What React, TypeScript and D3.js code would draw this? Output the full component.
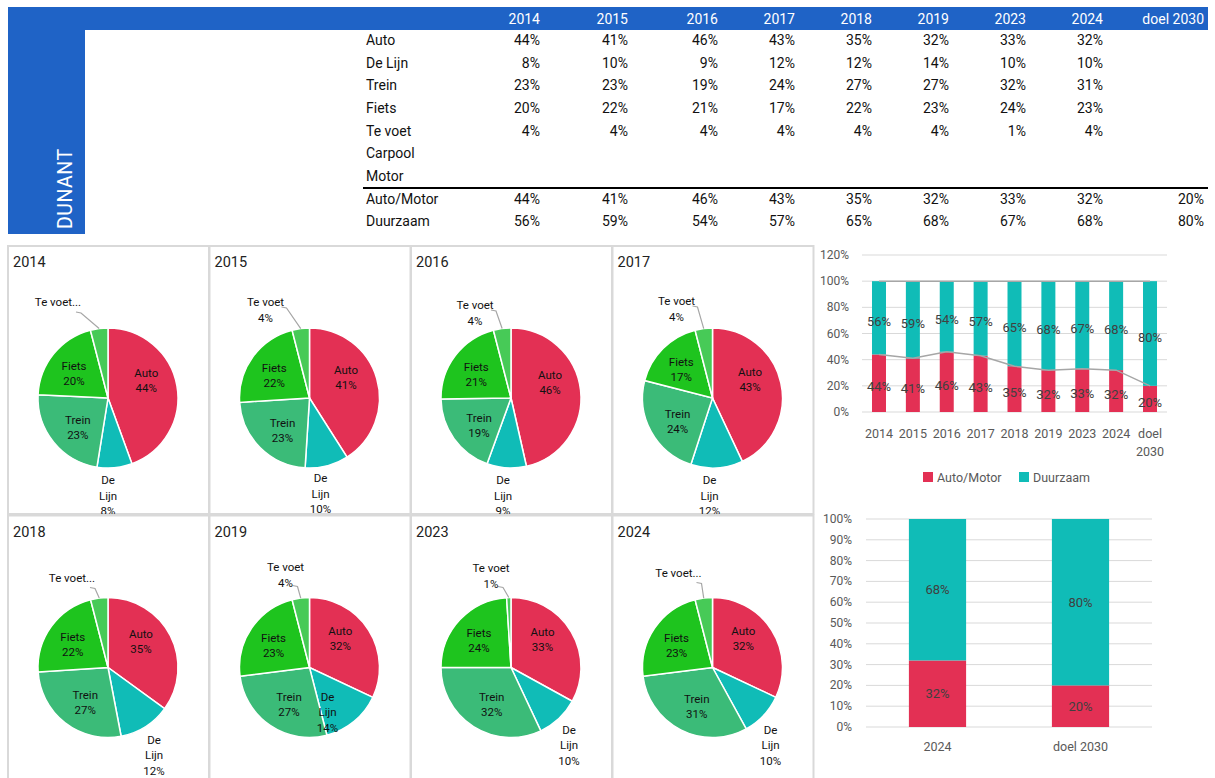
import React from 'react';
import * as d3 from 'd3';

// ---------- data ----------
const years = ['2014', '2015', '2016', '2017', '2018', '2019', '2023', '2024'];
const modes = ['Auto', 'De Lijn', 'Trein', 'Fiets', 'Te voet'];
const auto = [44, 41, 46, 43, 35, 32, 33, 32];
const deLijn = [8, 10, 9, 12, 12, 14, 10, 10];
const trein = [23, 23, 19, 24, 27, 27, 32, 31];
const fiets = [20, 22, 21, 17, 22, 23, 24, 23];
const teVoet = [4, 4, 4, 4, 4, 4, 1, 4];
const tableRows = ['Auto', 'De Lijn', 'Trein', 'Fiets', 'Te voet', 'Carpool', 'Motor'];
const barCats = [...years, 'doel 2030'];
const autoMotor = [44, 41, 46, 43, 35, 32, 33, 32, 20];
const duurzaam = [56, 59, 54, 57, 65, 68, 67, 68, 80];
const ticks1 = [0, 20, 40, 60, 80, 100, 120];
const ticks2 = [0, 10, 20, 30, 40, 50, 60, 70, 80, 90, 100];
const summaryCats = ['2024', 'doel 2030'];
const summaryAuto = [32, 20];
const summaryDuurzaam = [68, 80];

// ---------- layout ----------
const colRight = [540, 628, 718, 795, 872, 949, 1026, 1103, 1204];
const panelX = [8, 209.5, 411, 612.5];
const panelY = [246, 515.5];
const teVoetTrunc = [true, false, false, false, true, false, false, true];
const teVoetDx = [-50, -44, -36, -36, -36, -24, -20, -34];
const teVoetDy = [-96, -96, -93, -97, -90, -101, -100, -95];
const leaderFromLine2 = [false, false, false, false, false, true, true, false];
const deLijnDx = [0, 11, -8, -3, 46, 18, 58, 58];
const deLijnDy = [82, 80, 82, 82, 72, 29, 62, 62];

const BLUE = '#1F63C6';
const RED = '#E33054';
const TEAL = '#10BCB7';
const modeColors = [RED, TEAL, '#3BBB78', '#1EC41E', '#47CA57'];
const FONT = "Roboto, 'Noto Sans', Arial, sans-serif";
const TXT = '#111';

function Pie({ i }: { i: number }) {
  const col = i % 4;
  const row = Math.floor(i / 4);
  const left = panelX[col];
  const top = panelY[row];
  const w = 201;
  const h = row === 0 ? 268 : 270;
  const cx = left + 100;
  const cy = top + 152;
  const r = 70;
  const vals = [auto[i], deLijn[i], trein[i], fiets[i], teVoet[i]];
  const arcs = d3.pie<number>().sort(null).value((d) => d)(vals);
  const arc = d3.arc<d3.PieArcDatum<number>>().innerRadius(0).outerRadius(r);
  const labelPos = (k: number): [number, number] => {
    const a = arcs[k];
    let m = (a.startAngle + a.endAngle) / 2;
    const deg = Math.PI / 180;
    if (k === 0) m = m * 0.82;
    else if (k === 2) m = m - 5 * deg;
    else if (k === 3) m = m - 3 * deg;
    const rr = r * 0.6;
    return [cx + rr * Math.sin(m), cy - rr * Math.cos(m)];
  };
  const tv = arcs[4];
  const tvMid = (tv.startAngle + tv.endAngle) / 2;
  const edge: [number, number] = [cx + r * Math.sin(tvMid), cy - r * Math.cos(tvMid)];
  const tx = cx + teVoetDx[i];
  const ty = cy + teVoetDy[i];
  const trunc = teVoetTrunc[i];
  let sx: number, sy: number;
  if (trunc) {
    sx = tx + 18; sy = ty + 10;
  } else if (leaderFromLine2[i]) {
    sx = tx + 7; sy = ty + 19;
  } else {
    sx = tx + 16; sy = ty + 5;
  }
  const leader = d3.line()([[sx, sy], [sx + 5, sy + 1], edge]);
  const clipId = `clip${i}`;
  return (
    <g>
      <defs>
        <clipPath id={clipId}>
          <rect x={left} y={top} width={w} height={h} />
        </clipPath>
      </defs>
      <rect x={left} y={top} width={w} height={h} fill="#fff" stroke="#D9D9D9" strokeWidth={2} />
      <g clipPath={`url(#${clipId})`}>
        <text x={left + 5} y={top + 21} fontSize={14.5} fill="#222">{years[i]}</text>
        {arcs.map((a, k) => (
          <path key={k} d={arc(a) || ''} transform={`translate(${cx},${cy})`} fill={modeColors[k]} stroke="#fff" strokeWidth={1.5} />
        ))}
        {[0, 2, 3].map((k) => {
          const [lx, ly] = labelPos(k);
          return (
            <g key={k} fontSize={11.5} fill={TXT} textAnchor="middle">
              <text x={lx} y={ly - 3.5}>{modes[k]}</text>
              <text x={lx} y={ly + 11.5}>{vals[k]}%</text>
            </g>
          );
        })}
        <g fontSize={11.5} fill={TXT} textAnchor="middle">
          <text x={cx + deLijnDx[i]} y={cy + deLijnDy[i] + 4}>De</text>
          <text x={cx + deLijnDx[i]} y={cy + deLijnDy[i] + 19.5}>Lijn</text>
          <text x={cx + deLijnDx[i]} y={cy + deLijnDy[i] + 35}>{vals[1]}%</text>
        </g>
        <path d={leader || ''} fill="none" stroke="#A6A6A6" strokeWidth={1.2} />
        <g fontSize={11.5} fill={TXT} textAnchor="middle">
          {trunc ? (
            <text x={tx} y={ty + 4}>Te voet...</text>
          ) : (
            <>
              <text x={tx} y={ty + 4}>Te voet</text>
              <text x={tx} y={ty + 20}>{vals[4]}%</text>
            </>
          )}
        </g>
      </g>
    </g>
  );
}

function Chart1() {
  const x = d3.scaleBand<string>().domain(barCats).range([862, 1167]).paddingInner(0.587).paddingOuter(0.295);
  const y = d3.scaleLinear().domain([0, 120]).range([412, 255]);
  const bw = x.bandwidth();
  const cxs = barCats.map((c) => (x(c) as number) + bw / 2);
  const line = d3.line<number>().x((_, k) => cxs[k]).y((d) => y(d));
  const totals = autoMotor.map((v, k) => v + duurzaam[k]);
  return (
    <g>
      {ticks1.map((t) => (
        <g key={t}>
          <line x1={862} x2={1167} y1={y(t)} y2={y(t)} stroke="#D9D9D9" strokeWidth={1} />
          <text x={849} y={y(t) + 4} fontSize={12} fill="#595959" textAnchor="end">{t}%</text>
        </g>
      ))}
      {barCats.map((c, k) => (
        <g key={c}>
          <rect x={x(c)} y={y(autoMotor[k])} width={bw} height={y(0) - y(autoMotor[k])} fill={RED} />
          <rect x={x(c)} y={y(autoMotor[k] + duurzaam[k])} width={bw} height={y(autoMotor[k]) - y(autoMotor[k] + duurzaam[k])} fill={TEAL} />
        </g>
      ))}
      <path d={line(autoMotor) || ''} fill="none" stroke="#A6A6A6" strokeWidth={1.5} />
      <path d={line(totals) || ''} fill="none" stroke="#A6A6A6" strokeWidth={1.5} />
      {barCats.map((c, k) => (
        <g key={c} fontSize={13} fill="#404040" textAnchor="middle">
          <text x={cxs[k]} y={y(autoMotor[k] / 2) + 8}>{autoMotor[k]}%</text>
          <text x={cxs[k]} y={y(autoMotor[k] + duurzaam[k] / 2) + 8}>{duurzaam[k]}%</text>
        </g>
      ))}
      {barCats.map((c, k) => {
        const parts = c.split(' ');
        return (
          <g key={c} fontSize={12.5} fill="#595959" textAnchor="middle">
            {parts.map((p, j) => (
              <text key={j} x={cxs[k]} y={438 + j * 18}>{p}</text>
            ))}
          </g>
        );
      })}
      <rect x={923} y={472} width={10} height={10} fill={RED} />
      <text x={937} y={481.5} fontSize={12.5} fill="#595959">Auto/Motor</text>
      <rect x={1019} y={472} width={10} height={10} fill={TEAL} />
      <text x={1033} y={481.5} fontSize={12.5} fill="#595959">Duurzaam</text>
    </g>
  );
}

function Chart2() {
  const x = d3.scaleBand<string>().domain(summaryCats).range([866, 1152]).paddingInner(0.6).paddingOuter(0.3);
  const y = d3.scaleLinear().domain([0, 100]).range([727, 519]);
  const bw = x.bandwidth();
  return (
    <g>
      {ticks2.map((t) => (
        <g key={t}>
          <line x1={866} x2={1152} y1={y(t)} y2={y(t)} stroke="#D9D9D9" strokeWidth={1} />
          <text x={852} y={y(t) + 4} fontSize={12} fill="#595959" textAnchor="end">{t}%</text>
        </g>
      ))}
      {summaryCats.map((c, k) => {
        const cx = (x(c) as number) + bw / 2;
        const a = summaryAuto[k];
        const d = summaryDuurzaam[k];
        return (
          <g key={c}>
            <rect x={x(c)} y={y(a)} width={bw} height={y(0) - y(a)} fill={RED} />
            <rect x={x(c)} y={y(a + d)} width={bw} height={y(a) - y(a + d)} fill={TEAL} />
            <text x={cx} y={y(a / 2) + 4.5} fontSize={13} fill="#404040" textAnchor="middle">{a}%</text>
            <text x={cx} y={y(a + d / 2) + 4.5} fontSize={13} fill="#404040" textAnchor="middle">{d}%</text>
            <text x={cx} y={751} fontSize={12.5} fill="#595959" textAnchor="middle">{c}</text>
          </g>
        );
      })}
    </g>
  );
}

export default function App() {
  const rowY = d3.scalePoint<string>().domain(tableRows).range([40, 176]);
  const rowVals: number[][] = [auto, deLijn, trein, fiets, teVoet, [], []];
  return (
    <svg width={1215} height={778} style={{ position: 'absolute', left: 0, top: 0, fontFamily: FONT, background: '#fff' }}>
      <rect x={0} y={0} width={1215} height={778} fill="#fff" />
      {/* header */}
      <rect x={8} y={7} width={1200} height={23} fill={BLUE} />
      <rect x={8} y={30} width={77} height={204} fill={BLUE} />
      <text transform="translate(72,229) rotate(-90)" fontSize={19.5} fill="#fff" letterSpacing={0.5}>DUNANT</text>
      {barCats.map((c, k) => (
        <text key={c} x={colRight[k]} y={24} fontSize={14} fill="#fff" textAnchor="end">{c}</text>
      ))}
      {tableRows.map((rw, ri) => (
        <g key={rw} fontSize={14} fill={TXT}>
          <text x={366} y={(rowY(rw) as number) + 5}>{rw}</text>
          {rowVals[ri].map((v, k) => (
            <text key={k} x={colRight[k]} y={(rowY(rw) as number) + 5} textAnchor="end">{v}%</text>
          ))}
        </g>
      ))}
      <line x1={363} x2={1208} y1={188} y2={188} stroke="#000" strokeWidth={2} />
      <g fontSize={14} fill={TXT}>
        <text x={366} y={204}>Auto/Motor</text>
        <text x={366} y={226}>Duurzaam</text>
        {autoMotor.map((v, k) => (
          <text key={k} x={colRight[k]} y={204} textAnchor="end">{v}%</text>
        ))}
        {duurzaam.map((v, k) => (
          <text key={k} x={colRight[k]} y={226} textAnchor="end">{v}%</text>
        ))}
      </g>
      {/* pies */}
      {years.map((_, i) => (
        <Pie key={i} i={i} />
      ))}
      <Chart1 />
      <Chart2 />
    </svg>
  );
}
